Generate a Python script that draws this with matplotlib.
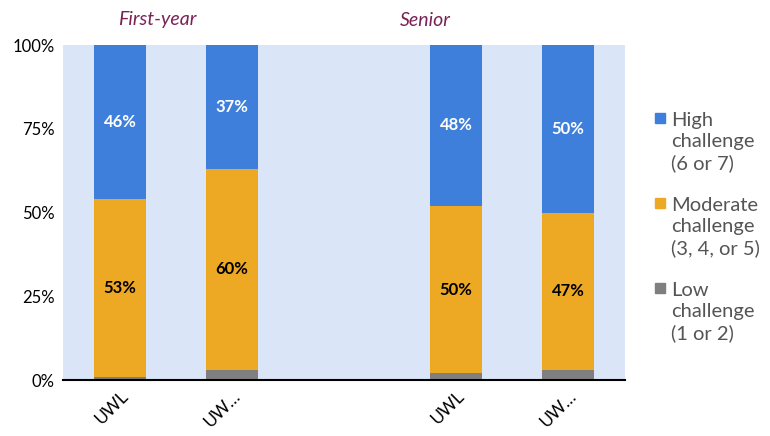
import matplotlib
matplotlib.use('Agg')
import matplotlib.pyplot as plt
from matplotlib.patches import Rectangle

plt.rcParams['font.family'] = ['Lato', 'DejaVu Sans']

groups = ['First-year', 'Senior']
categories = ['UWL', 'UW…', 'UWL', 'UW…']
positions = [0, 1, 3, 4]
low = [1, 3, 2, 3]
moderate = [53, 60, 50, 47]
high = [46, 37, 48, 50]
legend_labels = ['High\nchallenge\n(6 or 7)', 'Moderate\nchallenge\n(3, 4, or 5)',
                 'Low\nchallenge\n(1 or 2)']

c_high = '#3F7FDC'
c_mod = '#EEA924'
c_low = '#7F7F7F'

fig = plt.figure(figsize=(7.7, 4.36), dpi=100)
ax = fig.add_axes([0.0818, 0.1284, 0.73, 0.7683])
ax.set_facecolor('#DAE6F7')

w = 0.46
bot_mod = low
bot_high = [l + m for l, m in zip(low, moderate)]
ax.bar(positions, low, w, color=c_low)
ax.bar(positions, moderate, w, bottom=bot_mod, color=c_mod)
ax.bar(positions, high, w, bottom=bot_high, color=c_high)

for x, l, m, h in zip(positions, low, moderate, high):
    ax.text(x, l + m / 2, f'{m}%', ha='center', va='center',
            fontsize=12, fontweight='bold', color='black')
    ax.text(x, l + m + h / 2, f'{h}%', ha='center', va='center',
            fontsize=12, fontweight='bold', color='white')

ax.set_xlim(-0.51, 4.51)
ax.set_ylim(0, 100)
ax.set_yticks([0, 25, 50, 75, 100])
ax.set_yticklabels(['0%', '25%', '50%', '75%', '100%'], fontsize=12)
ax.set_xticks(positions)
ax.set_xticklabels(categories, rotation=45, ha='right', rotation_mode='anchor',
                   fontsize=12.5)
ax.tick_params(length=0, pad=6)
for s in ['top', 'right', 'left']:
    ax.spines[s].set_visible(False)
ax.spines['bottom'].set_linewidth(1.5)

fig.text(157 / 770, 1 - 20 / 436, groups[0], ha='center', va='center',
         fontsize=14, style='italic', color='#7B2155')
fig.text(425 / 770, 1 - 20 / 436, groups[1], ha='center', va='center',
         fontsize=14, style='italic', color='#7B2155')

# legend drawn by hand so multi-line labels sit like the original
for i, (col, lab) in enumerate(zip([c_high, c_mod, c_low], legend_labels)):
    ytop = 112 + i * 85
    fig.add_artist(Rectangle((655 / 770, 1 - (ytop + 11) / 436), 10 / 770, 10 / 436,
                             transform=fig.transFigure, color=col))
    fig.text(671 / 770, 1 - ytop / 436, lab, ha='left', va='top',
             fontsize=14.5, color='#555555', linespacing=1.28)

fig.savefig('out.png', dpi=100)
